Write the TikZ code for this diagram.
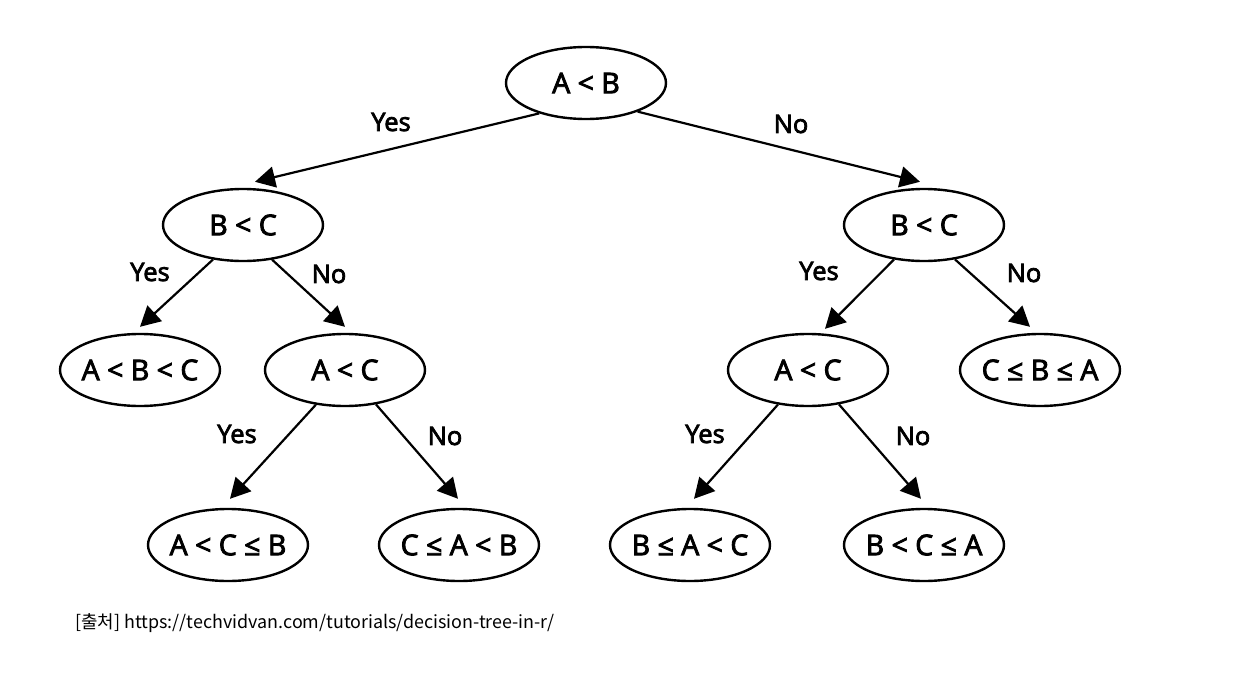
\documentclass[tikz,border=0pt]{standalone}
\usepackage{fontspec}
\setmainfont{Open Sans}
\newfontfamily\semib{Open Sans}[FakeBold=3]
\newfontfamily\cjkfont{Noto Sans CJK KR}
\usetikzlibrary{shapes.geometric,arrows.meta}
\tikzset{
  dec/.style={ellipse,draw,line width=2.4pt,minimum width=160pt,minimum height=72pt,inner xsep=-12pt,inner ysep=0pt,font=\semib\fontsize{28.5}{32}\selectfont},
  arr/.style={line width=2.2pt,-{Triangle[length=20pt,width=21pt]}},
  lbl/.style={font=\semib\fontsize{25.5}{30}\selectfont,inner sep=0pt}
}
\begin{document}
\begin{tikzpicture}[x=1pt,y=-1pt]
\useasboundingbox (0,0) rectangle (1245,680);
\fill[white] (0,0) rectangle (1245,680);
% nodes
\node[dec] (root) at (586,83) {A < B};
\node[dec] (bcL) at (243,225) {B < C};
\node[dec] (bcR) at (924,225) {B < C};
\node[dec] (abc) at (140,370) {A < B < C};
\node[dec] (acL) at (345,370) {A < C};
\node[dec] (acR) at (808,370) {A < C};
\node[dec] (cba) at (1040,370) {C ≤ B ≤ A};
\node[dec] (acb) at (228,545) {A < C ≤ B};
\node[dec] (cab) at (459,545) {C ≤ A < B};
\node[dec] (bac) at (690,545) {B ≤ A < C};
\node[dec] (bca) at (924,545) {B < C ≤ A};
% connectors
\draw[arr] (root.213) -- ([shift={(12,-6)}]bcL.north);
\draw[arr] (root.331) -- ([shift={(-4,-6)}]bcR.north);
\draw[arr] (bcL.229) -- ([shift={(0,-6)}]abc.north);
\draw[arr] (bcL.310) -- ([shift={(0,-6)}]acL.north);
\draw[arr] (bcR.229) -- ([shift={(17,-4)}]acR.north);
\draw[arr] (bcR.312) -- ([shift={(-10,-6)}]cba.north);
\draw[arr] (acL.230) -- ([shift={(2,-9)}]acb.north);
\draw[arr] (acL.312) -- ([shift={(-1,-9)}]cab.north);
\draw[arr] (acR.229) -- ([shift={(4,-9)}]bac.north);
\draw[arr] (acR.312) -- ([shift={(-3,-9)}]bca.north);
% labels
\node[lbl] (l1) at (391,122) {Yes};
\node[lbl] (l2) at (791,124) {No};
\node[lbl] (l3) at (150,272) {Yes};
\node[lbl] (l4) at (329,274) {No};
\node[lbl] (l5) at (819,271) {Yes};
\node[lbl] (l6) at (1024,273) {No};
\node[lbl] (l7) at (237,434) {Yes};
\node[lbl] (l8) at (445,436) {No};
\node[lbl] (l9) at (705,434) {Yes};
\node[lbl] (l10) at (913,436) {No};
% caption
\node[anchor=base west,inner sep=0pt,font=\cjkfont\fontsize{17.9}{22}\selectfont] (cap) at (75,628) {[출처] https://techvidvan.com/tutorials/decision-tree-in-r/};
\end{tikzpicture}
\end{document}
